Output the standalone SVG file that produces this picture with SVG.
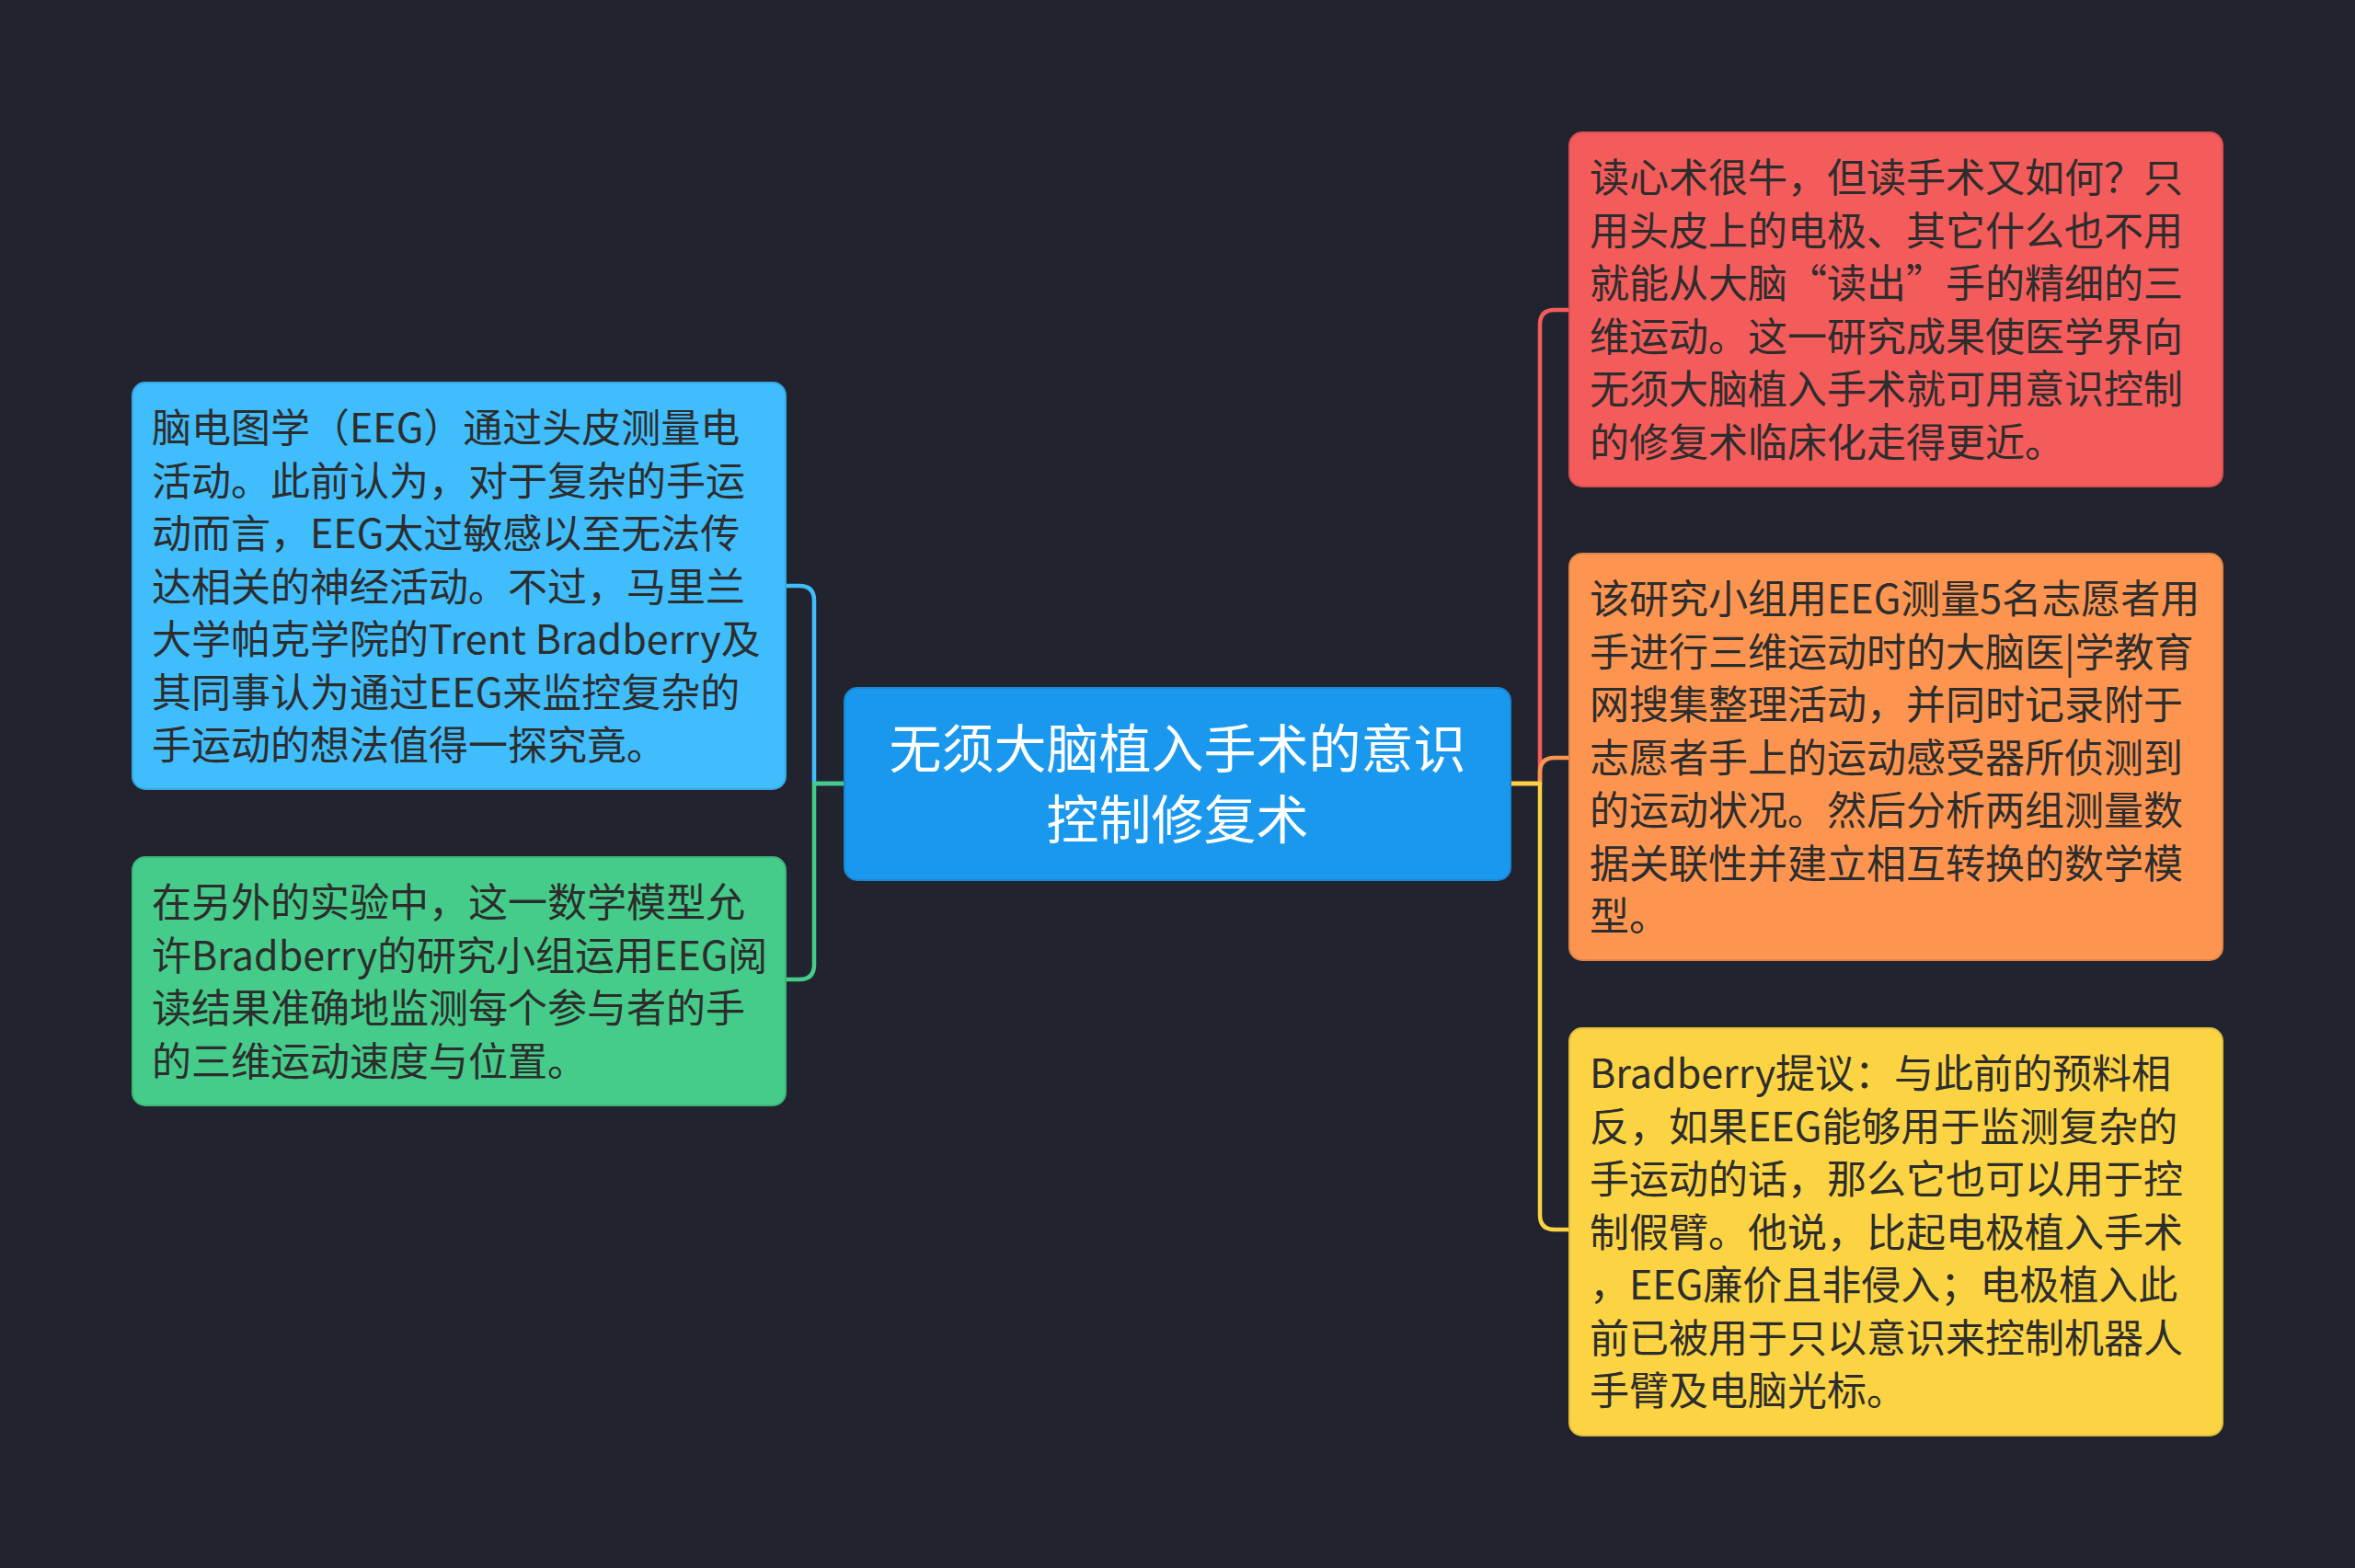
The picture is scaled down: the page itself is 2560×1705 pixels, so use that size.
<svg xmlns="http://www.w3.org/2000/svg" width="2560" height="1705" viewBox="0 0 2560 1705">
<style>
.bg{fill:#21242e}
.node rect{stroke-width:2}
.t{font-family:"Noto Sans CJK SC","Microsoft YaHei",sans-serif;font-size:43px;fill:#2d2d2d}
.ct{font-family:"Noto Sans CJK SC","Microsoft YaHei",sans-serif;font-size:57px;fill:#ffffff;text-anchor:middle}
.c{fill:none;stroke-width:4.5;stroke-linecap:round;stroke-linejoin:round}
</style>
<rect class="bg" x="0" y="0" width="2560" height="1705"/>
<g id="connectors">
<path class="c" stroke="#40bdfc" d="M918 852 H885 V653 Q885 637 869 637 H854"/>
<path class="c" stroke="#46cc8a" d="M918 852 H885 V1049 Q885 1065 869 1065 H854"/>
<path class="c" stroke="#f45b5b" d="M1642 852 H1674 V353 Q1674 337 1690 337 H1706"/>
<path class="c" stroke="#fd9550" d="M1642 852 H1674 V840 Q1674 824 1690 824 H1706"/>
<path class="c" stroke="#fcd443" d="M1642 852 H1674 V1321 Q1674 1337 1690 1337 H1706"/>
</g>
<g id="center" class="node">
<rect x="918" y="748" width="724" height="209" rx="14" fill="#1a98ee" stroke="#1787d4"/>
<text class="ct" x="1280" y="835">无须大脑植入手术的意识</text>
<text class="ct" x="1280" y="912">控制修复术</text>
</g>
<g id="node-eeg" class="node">
<rect x="144" y="416" width="710" height="442" rx="14" fill="#40bdfc" stroke="#36a8e2"/>
<text class="t" x="165" y="481">脑电图学（EEG）通过头皮测量电</text>
<text class="t" x="165" y="538.5">活动。此前认为，对于复杂的手运</text>
<text class="t" x="165" y="596">动而言，EEG太过敏感以至无法传</text>
<text class="t" x="165" y="653.5">达相关的神经活动。不过，马里兰</text>
<text class="t" x="165" y="711">大学帕克学院的Trent Bradberry及</text>
<text class="t" x="165" y="768.5">其同事认为通过EEG来监控复杂的</text>
<text class="t" x="165" y="826">手运动的想法值得一探究竟。</text>
</g>
<g id="node-model" class="node">
<rect x="144" y="932" width="710" height="270" rx="14" fill="#46cc8a" stroke="#3db67a"/>
<text class="t" x="165" y="997">在另外的实验中，这一数学模型允</text>
<text class="t" x="165" y="1054.5">许Bradberry的研究小组运用EEG阅</text>
<text class="t" x="165" y="1112">读结果准确地监测每个参与者的手</text>
<text class="t" x="165" y="1169.5">的三维运动速度与位置。</text>
</g>
<g id="node-read" class="node">
<rect x="1706" y="144" width="710" height="385" rx="14" fill="#f45b5b" stroke="#db5050"/>
<text class="t" x="1728" y="209">读心术很牛，但读手术又如何？只</text>
<text class="t" x="1728" y="266.5">用头皮上的电极、其它什么也不用</text>
<text class="t" x="1728" y="324">就能从大脑“读出”手的精细的三</text>
<text class="t" x="1728" y="381.5">维运动。这一研究成果使医学界向</text>
<text class="t" x="1728" y="439">无须大脑植入手术就可用意识控制</text>
<text class="t" x="1728" y="496.5">的修复术临床化走得更近。</text>
</g>
<g id="node-study" class="node">
<rect x="1706" y="602" width="710" height="442" rx="14" fill="#fd9550" stroke="#e38547"/>
<text class="t" x="1728" y="667">该研究小组用EEG测量5名志愿者用</text>
<text class="t" x="1728" y="724.5">手进行三维运动时的大脑医|学教育</text>
<text class="t" x="1728" y="782">网搜集整理活动，并同时记录附于</text>
<text class="t" x="1728" y="839.5">志愿者手上的运动感受器所侦测到</text>
<text class="t" x="1728" y="897">的运动状况。然后分析两组测量数</text>
<text class="t" x="1728" y="954.5">据关联性并建立相互转换的数学模</text>
<text class="t" x="1728" y="1012">型。</text>
</g>
<g id="node-proposal" class="node">
<rect x="1706" y="1118" width="710" height="443" rx="14" fill="#fcd443" stroke="#e2be3c"/>
<text class="t" x="1728" y="1183">Bradberry提议：与此前的预料相</text>
<text class="t" x="1728" y="1240.5">反，如果EEG能够用于监测复杂的</text>
<text class="t" x="1728" y="1298">手运动的话，那么它也可以用于控</text>
<text class="t" x="1728" y="1355.5">制假臂。他说，比起电极植入手术</text>
<text class="t" x="1728" y="1413">，EEG廉价且非侵入；电极植入此</text>
<text class="t" x="1728" y="1470.5">前已被用于只以意识来控制机器人</text>
<text class="t" x="1728" y="1528">手臂及电脑光标。</text>
</g>
</svg>
